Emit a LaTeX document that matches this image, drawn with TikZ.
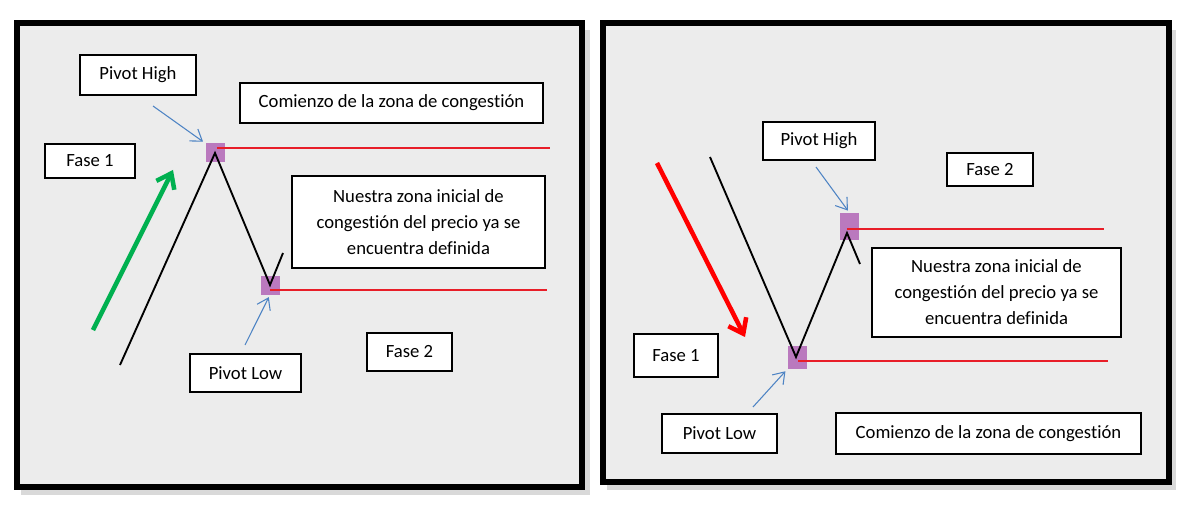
\documentclass[tikz,border=0pt]{standalone}
\usepackage{fontspec}
\setmainfont{Carlito}[Ligatures=CommonOff]
\usetikzlibrary{arrows.meta}

\definecolor{panelgray}{RGB}{236,236,236}
\definecolor{pivotpurple}{RGB}{178,102,182}
\definecolor{hintblue}{RGB}{78,132,196}
\definecolor{upgreen}{RGB}{0,176,80}
\definecolor{levelred}{RGB}{232,30,40}

\begin{document}
\begin{tikzpicture}[x=0.75pt, y=-0.75pt,
    tag/.style 2 args={draw, fill=white, line width=0.8pt, inner sep=0pt,
        minimum width=#1*0.75pt, minimum height=#2*0.75pt,
        font=\fontsize{14}{19.5}\selectfont, align=center},
    pivot/.style={fill=pivotpurple, fill opacity=0.85, inner sep=0pt,
        minimum width=19*0.75pt, minimum height=#1*0.75pt},
    pivot/.default=19,
    hint/.style={draw=hintblue, line width=0.8pt, shorten >=2pt,
        -{Straight Barb[length=8pt, width=11pt]}},
    trend/.style={line width=3.4pt, -{Straight Barb[length=10pt, width=15pt]}},
    level/.style={draw=levelred, line width=1pt},
    price/.style={draw=black, line width=1.4pt},
    frame/.style={draw=black, line width=4.6pt, fill=panelgray}]

    % Canvas
    \useasboundingbox (0,0) rectangle (1200,506);

    % Frames with shadow
    \fill[gray!30] (21,30) rectangle (590,495);
    \fill[gray!30] (607,30) rectangle (1176,490);
    \draw[frame] (17,23) rectangle (582,487);
    \draw[frame] (603,23) rectangle (1169,482);

    % ---------- Left panel: up move ----------
    \node[pivot] (hiL) at (215,153) {};
    \node[pivot] (loL) at (270,285) {};

    % Levels
    \coordinate (hiLs) at (217,148);
    \coordinate (hiLe) at (550,148);
    \coordinate (loLs) at (270,290);
    \coordinate (loLe) at (547,290);
    \draw[level] (hiLs) -- (hiLe);
    \draw[level] (loLs) -- (loLe);

    % Price path
    \coordinate (startL) at (120,365);
    \coordinate (tailL) at (283,253);
    \draw[price] (startL) -- (hiL.center) -- (loL.center) -- (tailL);

    % Trend arrow
    \coordinate (gA) at (93,330);
    \coordinate (gB) at (173,170);
    \draw[trend, upgreen] (gA) -- (gB);

    % Labels
    \node[tag={116}{40}] (phL) at (138,75) {Pivot High};
    \node[tag={303}{40}] (czL) at (391.5,103) {Comienzo de la zona de congestión};
    \node[tag={90}{34}] (f1L) at (90,161) {Fase 1};
    \node[tag={253}{92}] (nzL) at (418.5,222) {Nuestra zona inicial de\\congestión del precio ya se\\encuentra definida};
    \node[tag={111}{38}] (plL) at (245.5,373) {Pivot Low};
    \node[tag={85}{38}] (f2L) at (409.5,352) {Fase 2};

    % Pointers
    \coordinate (phLp) at (153,106);
    \coordinate (plLp) at (245,345);
    \draw[hint] (phLp) -- (hiL.north west);
    \draw[hint] (plLp) -- (loL.south);

    % ---------- Right panel: down move ----------
    \node[pivot=27] (hiR) at (849.5,226.5) {};
    \node[pivot=23] (loR) at (797,357.5) {};

    % Levels
    \coordinate (hiRs) at (847,229);
    \coordinate (hiRe) at (1104,229);
    \coordinate (loRs) at (798,361);
    \coordinate (loRe) at (1108,361);
    \draw[level] (hiRs) -- (hiRe);
    \draw[level] (loRs) -- (loRe);

    % Price path
    \coordinate (startR) at (710,157);
    \coordinate (vR) at (796,357);
    \coordinate (peakR) at (847,233);
    \coordinate (tailR) at (860,264);
    \draw[price] (startR) -- (vR) -- (peakR) -- (tailR);

    % Trend arrow
    \coordinate (rA) at (657,163);
    \coordinate (rB) at (745,337);
    \draw[trend, red] (rA) -- (rB);

    % Labels
    \node[tag={112}{38}] (phR) at (819,141) {Pivot High};
    \node[tag={86}{33}] (f2R) at (990,169.5) {Fase 2};
    \node[tag={249}{89}] (nzR) at (996.5,292.5) {Nuestra zona inicial de\\congestión del precio ya se\\encuentra definida};
    \node[tag={84}{43}] (f1R) at (676,355.5) {Fase 1};
    \node[tag={115}{39}] (plR) at (719.5,433.5) {Pivot Low};
    \node[tag={305}{41}] (czR) at (988.5,433.5) {Comienzo de la zona de congestión};

    % Pointers
    \coordinate (phRp) at (816,167);
    \coordinate (plRp) at (753,407);
    \draw[hint] (phRp) -- (hiR.north);
    \draw[hint] (plRp) -- (loR.south west);
\end{tikzpicture}
\end{document}
